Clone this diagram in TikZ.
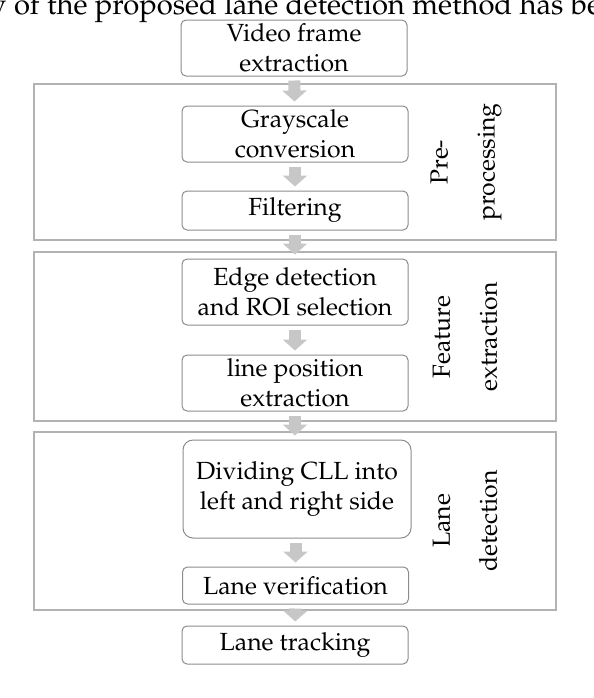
\documentclass[tikz,border=0pt]{standalone}
\usepackage[T1]{fontenc}
\usepackage{mathpazo}
\usetikzlibrary{arrows.meta}

\tikzset{
  stepbox/.style={draw=gray!90, line width=0.5pt, rounded corners=2.5pt,
    minimum width=113pt, align=center, inner sep=1pt,
    font=\fontsize{12.4}{15}\selectfont},
  stagebox/.style={draw=black!30, line width=1.3pt},
  stagelabel/.style={rotate=90, align=center, font=\fontsize{12.4}{23.5}\selectfont},
  flow/.style={draw=black!22, line width=6pt,
    -{Triangle[width=12pt,length=5.5pt]}, shorten <=2pt, shorten >=2pt}
}

\begin{document}
\begin{tikzpicture}[x=0.5pt,y=-0.5pt]
        \useasboundingbox (0,0) rectangle (594,698);

        % running text above the figure
        \node[anchor=base west, inner sep=0pt, font=\fontsize{14.6}{17}\selectfont] (body) at (-18,14)
            {w of the proposed lane detection method has been};

        % stages
        \draw[stagebox] (34,84) rectangle (556,240);
        \draw[stagebox] (34,252) rectangle (556,421);
        \draw[stagebox] (34,432) rectangle (556,610);

        \node[stagelabel] (pre) at (466,162) {Pre-\\processing};
        \node[stagelabel] (feat) at (465,337) {Feature\\extraction};
        \node[stagelabel] (det) at (465,521) {Lane\\detection};

        % steps
        \node[stepbox, minimum height=28pt] (video) at (294,48) {Video frame\\extraction};
        \node[stepbox, minimum height=28pt] (gray) at (295,134) {Grayscale\\conversion};
        \node[stepbox, minimum height=19.5pt] (filter) at (295,210.5) {Filtering};
        \node[stepbox, minimum height=33pt] (edge) at (295,292) {Edge detection\\and ROI selection};
        \node[stepbox, minimum height=28pt] (linepos) at (295,383) {line position\\extraction};
        \node[stepbox, minimum height=49pt, minimum width=114pt, rounded corners=5pt] (divide) at (297,489) {Dividing CLL into\\left and right side};
        \node[stepbox, minimum height=18.5pt] (verify) at (295.5,585.5) {Lane verification};
        \node[stepbox, minimum height=19pt] (track) at (295,645) {Lane tracking};

        % arrows
        \draw[flow] (video) -- (gray);
        \draw[flow] (gray) -- (filter);
        \draw[flow] (filter) -- (edge);
        \draw[flow] (edge) -- (linepos);
        \draw[flow] (linepos) -- (divide.north -| linepos.south);
        \draw[flow] (divide.south -| verify.north) -- (verify);
        \draw[flow] (verify) -- (track);
    \end{tikzpicture}
\end{document}
